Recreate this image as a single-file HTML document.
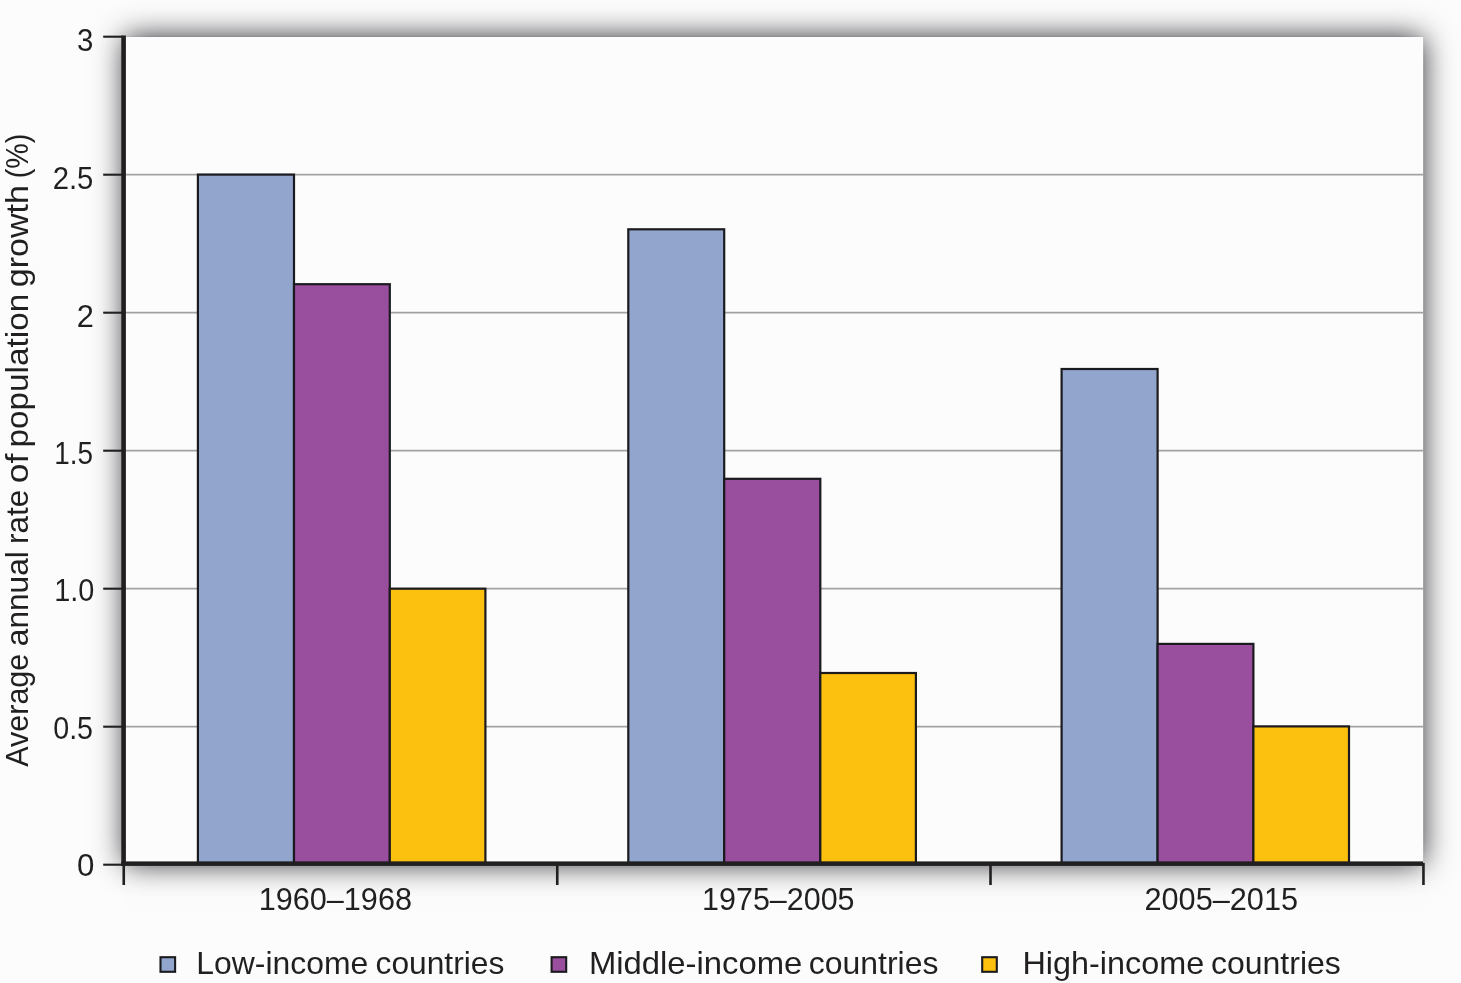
<!DOCTYPE html>
<html lang="en"><head><meta charset="utf-8"><title>Average annual rate of population growth</title>
<style>
html,body{margin:0;padding:0;background:#fcfcfc;}
body{width:1461px;height:983px;overflow:hidden;position:relative;}
#shadow{position:absolute;left:124.6px;top:37px;width:1298.6px;height:827.2px;background:#fcfcfc;box-shadow:0 0 28px rgba(2,2,10,0.84),0 0 2px rgba(0,0,0,0.12);}
svg{position:absolute;left:0;top:0;}
text{font-family:"Liberation Sans",sans-serif;font-size:30.7px;fill:#211f20;}
</style></head><body>
<div id="shadow"></div>
<svg width="1461" height="983" viewBox="0 0 1461 983">
<rect x="123.6" y="37" width="1299.6" height="827" fill="#fcfcfc"/>

<line x1="125" x2="1423.2" y1="174.60" y2="174.60" stroke="#a2a2a2" stroke-width="1.9"/>
<line x1="125" x2="1423.2" y1="312.60" y2="312.60" stroke="#a2a2a2" stroke-width="1.9"/>
<line x1="125" x2="1423.2" y1="450.60" y2="450.60" stroke="#a2a2a2" stroke-width="1.9"/>
<line x1="125" x2="1423.2" y1="588.60" y2="588.60" stroke="#a2a2a2" stroke-width="1.9"/>
<line x1="125" x2="1423.2" y1="726.60" y2="726.60" stroke="#a2a2a2" stroke-width="1.9"/>
<rect x="197.90" y="174.60" width="96.10" height="688.40" fill="#92a6cd" stroke="#1b1a1e" stroke-width="2.2"/>
<rect x="294.00" y="284.20" width="95.80" height="578.80" fill="#9a4e9e" stroke="#1b1a1e" stroke-width="2.2"/>
<rect x="389.80" y="588.70" width="95.60" height="274.30" fill="#fcc00f" stroke="#1b1a1e" stroke-width="2.2"/>
<rect x="628.30" y="229.30" width="95.90" height="633.70" fill="#92a6cd" stroke="#1b1a1e" stroke-width="2.2"/>
<rect x="724.20" y="478.80" width="96.10" height="384.20" fill="#9a4e9e" stroke="#1b1a1e" stroke-width="2.2"/>
<rect x="820.30" y="673.00" width="95.60" height="190.00" fill="#fcc00f" stroke="#1b1a1e" stroke-width="2.2"/>
<rect x="1061.60" y="369.00" width="96.00" height="494.00" fill="#92a6cd" stroke="#1b1a1e" stroke-width="2.2"/>
<rect x="1157.60" y="643.90" width="95.80" height="219.10" fill="#9a4e9e" stroke="#1b1a1e" stroke-width="2.2"/>
<rect x="1253.40" y="726.40" width="95.60" height="136.60" fill="#fcc00f" stroke="#1b1a1e" stroke-width="2.2"/>
<line x1="103.2" x2="123" y1="36.70" y2="36.70" stroke="#211f20" stroke-width="2.1"/>
<line x1="103.2" x2="123" y1="174.70" y2="174.70" stroke="#211f20" stroke-width="2.1"/>
<line x1="103.2" x2="123" y1="312.70" y2="312.70" stroke="#211f20" stroke-width="2.1"/>
<line x1="103.2" x2="123" y1="450.70" y2="450.70" stroke="#211f20" stroke-width="2.1"/>
<line x1="103.2" x2="123" y1="588.70" y2="588.70" stroke="#211f20" stroke-width="2.1"/>
<line x1="103.2" x2="123" y1="726.70" y2="726.70" stroke="#211f20" stroke-width="2.1"/>
<line x1="103.2" x2="123" y1="864.70" y2="864.70" stroke="#211f20" stroke-width="2.1"/>
<rect x="121.3" y="35.5" width="4.6" height="830.4" fill="#211f20"/>
<rect x="121.3" y="861.4" width="1301.8" height="4.5" fill="#211f20"/>
<rect x="122.45" y="863" width="2.6" height="22" fill="#211f20"/>
<rect x="555.95" y="863" width="2.6" height="22" fill="#211f20"/>
<rect x="989.20" y="863" width="2.6" height="22" fill="#211f20"/>
<rect x="1422.15" y="863" width="2.6" height="22" fill="#211f20"/>
<rect x="160.50" y="957.2" width="14.6" height="14.6" fill="#92a6cd" stroke="#1b1a1e" stroke-width="2.1"/>
<rect x="551.60" y="957.2" width="14.6" height="14.6" fill="#9a4e9e" stroke="#1b1a1e" stroke-width="2.1"/>
<rect x="982.20" y="957.2" width="14.6" height="14.6" fill="#fcc00f" stroke="#1b1a1e" stroke-width="2.1"/>
<g id="yticks">
<text id="t3" transform="translate(77.01,51.30) scale(0.9588,1)">3</text>
<text id="t25" transform="translate(52.72,189.00) scale(0.9527,1)">2.5</text>
<text id="t2" transform="translate(76.64,327.00) scale(1.0022,1)">2</text>
<text id="t15" transform="translate(54.26,464.00) scale(0.9081,1)">1.5</text>
<text id="t10" transform="translate(54.18,601.20) scale(0.9394,1)">1.0</text>
<text id="t05" transform="translate(53.22,738.50) scale(0.9333,1)">0.5</text>
<text id="t0" transform="translate(76.91,876.10) scale(1.0181,1)">0</text>
</g>
<g id="xlabels">
<text id="x1" transform="translate(258.64,910.40) scale(0.9985,1)">1960–1968</text>
<text id="x2" transform="translate(702.06,910.40) scale(0.9929,1)">1975–2005</text>
<text id="x3" transform="translate(1144.45,910.40) scale(0.9995,1)">2005–2015</text>
</g>
<g id="legend1">
<text id="l1a" transform="translate(196.28,974.30) scale(1.0392,1)">Low-income</text>
<text id="l1b" transform="translate(375.51,974.30) scale(1.0347,1)">countries</text>
</g>
<g id="legend2">
<text id="l2a" transform="translate(588.90,974.30) scale(1.0698,1)">Middle-income</text>
<text id="l2b" transform="translate(808.80,974.30) scale(1.0412,1)">countries</text>
</g>
<g id="legend3">
<text id="l3a" transform="translate(1022.44,974.30) scale(1.0548,1)">High-income</text>
<text id="l3b" transform="translate(1211.00,974.30) scale(1.0421,1)">countries</text>
</g>
<g id="ytitle">
<text id="y1" transform="translate(28.3,766.78) rotate(-90) scale(0.9939,1)">Average</text>
<text id="y2" transform="translate(28.3,646.21) rotate(-90) scale(1.0312,1)">annual</text>
<text id="y3" transform="translate(28.3,544.01) rotate(-90) scale(1.0234,1)">rate</text>
<text id="y4" transform="translate(28.3,483.24) rotate(-90) scale(1.1593,1)">of</text>
<text id="y5" transform="translate(28.3,447.49) rotate(-90) scale(1.0854,1)">population</text>
<text id="y6" transform="translate(28.3,287.26) rotate(-90) scale(1.1096,1)">growth</text>
<text id="y7" transform="translate(28.3,178.27) rotate(-90) scale(0.9347,1)">(%)</text>
</g>
</svg></body></html>
